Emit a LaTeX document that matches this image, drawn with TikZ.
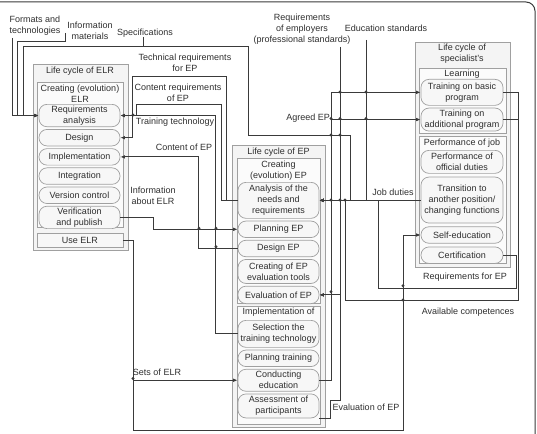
\documentclass[tikz,border=0pt]{standalone}
\usepackage{fontspec}
\setmainfont{Liberation Sans}
\usetikzlibrary{
    arrows.meta,
    positioning,
    fit,
    calc,
}
\definecolor{linecol}{HTML}{3A3A3A}
\definecolor{boxcol}{HTML}{A0A0A0}
\definecolor{textcol}{HTML}{2E2E2E}

\begin{document}
\begin{tikzpicture}[
    x=1pt, y=-1pt,
    font=\fontsize{9}{11}\selectfont,
    text=textcol,
    node distance=2pt,
    cycle/.style={draw=boxcol, fill=gray!9, line width=0.7pt, inner sep=0pt},
    stage/.style={draw=boxcol, fill=gray!3, line width=0.7pt, inner sep=0pt},
    process/.style={draw=boxcol, fill=gray!6, rounded corners=8pt, align=center,
                minimum width=81pt, minimum height=16.5pt, inner xsep=1pt, inner ysep=1.5pt,
                line width=0.7pt},
    caption/.style={align=center, inner sep=0pt},
    flow/.style={draw=linecol, line width=1pt, -{Latex[length=4.5pt,width=3.6pt]}},
    line/.style={draw=linecol, line width=1pt},
]
\useasboundingbox (0,0) rectangle (537,433);
\clip (0,0) rectangle (537,433);

% Frame
\draw[linecol, line width=1pt, rounded corners=9pt] (-10,2) rectangle (535,445);

% Life cycle of ELR
\node[cycle, fit={(33,64) (128,250)}] (elr) {};
\node[stage, fit={(37,82) (123,227)}] (elr-create) {};
\node[caption] (elr-title) at (80,71) {Life cycle of ELR};
\node[caption] (elr-create-title) at (80,93.5) {Creating (evolution)\\ELR};
\node[process, minimum height=22pt, anchor=north] (reqan) at (79.5,104) {Requirements\\analysis};
\node[process, below=of reqan] (design) {Design};
\node[process, below=of design] (impl) {Implementation};
\node[process, below=of impl] (integ) {Integration};
\node[process, below=of integ] (version) {Version control};
\node[process, minimum height=22pt, below=of version] (verif) {Verification\\and publish};
\node[process, rounded corners=0pt, minimum width=86pt, minimum height=14pt] (useelr) at (80,240) {Use ELR};

% Life cycle of EP
\node[cycle, fit={(232,145) (325,427)}] (ep) {};
\node[stage, fit={(237,158) (320,303)}] (ep-create) {};
\node[stage, fit={(237,306) (320,424)}] (ep-impl) {};
\node[caption] (ep-title) at (278.5,152) {Life cycle of EP};
\node[caption] (ep-create-title) at (278.5,170.5) {Creating\\(evolution) EP};
\node[process, minimum height=36pt, anchor=north] (anal) at (278.5,182) {Analysis of the\\needs and\\requirements};
\node[process, below=of anal] (planep) {Planning EP};
\node[process, below=of planep] (designep) {Design EP};
\node[process, minimum height=24pt, below=of designep] (evaltools) {Creating of EP\\evaluation tools};
\node[process, minimum height=17.5pt, below=of evaltools] (evalep) {Evaluation of EP};
\node[caption] (ep-impl-title) at (278.5,312) {Implementation of};
\node[process, minimum height=27pt, anchor=north] (select) at (278.5,320) {Selection the\\training technology};
\node[process, below=of select] (plantr) {Planning training};
\node[process, minimum height=22pt, below=of plantr] (condu) {Conducting\\education};
\node[process, minimum height=24pt, below=of condu] (assess) {Assessment of\\participants};

% Life cycle of specialist's
\node[cycle, fit={(415,42) (510,267)}] (spec) {};
\node[stage, fit={(419,68) (506,133)}] (learn) {};
\node[stage, fit={(419,136) (506,263)}] (job) {};
\node[caption] (spec-title) at (462,54) {Life cycle of\\specialist's};
\node[caption] (learn-title) at (462,74) {Learning};
\node[process, minimum width=82pt, minimum height=26pt, anchor=north] (basic) at (462,79) {Training on basic\\program};
\node[process, minimum width=82pt, minimum height=23pt, below=of basic] (addit) {Training on\\additional program};
\node[caption] (job-title) at (462,143) {Performance of job};
\node[process, minimum width=82pt, minimum height=23pt, anchor=north] (official) at (462,150) {Performance of\\official duties};
\node[process, minimum width=82pt, minimum height=46pt, below=3pt of official] (trans) {Transition to\\another position/\\changing functions};
\node[process, minimum width=82pt, below=3pt of trans] (selfedu) {Self-education};
\node[process, minimum width=82pt, below=3pt of selfedu] (cert) {Certification};

% Inputs
\node[caption] (fmt) at (35,26) {Formats and\\technologies};
\node[caption] (info) at (90,30.5) {Information\\materials};
\node[caption] (specs) at (145,33) {Specifications};
\node[caption] (emp) at (302,29.5) {Requirements\\of employers\\(professional standards)};
\node[caption] (std) at (386,28) {Education standards};
\coordinate (fmt-in) at (12,38);
\coordinate (info-in) at (65,33);
\coordinate (specs-in) at (143,37);
\coordinate (emp-in) at (340,47);
\coordinate (std-in) at (366,40);

% Labels
\node[caption] (l-tech) at (185,62.5) {Technical requirements\\for EP};
\node[caption] (l-content) at (178,92.5) {Content requirements\\of EP};
\node[caption] (l-techno) at (175,122) {Training technology};
\node[caption] (l-contep) at (184,147) {Content of EP};
\node[caption] (l-about) at (153,195.5) {Information\\about ELR};
\node[caption] (l-sets) at (157,372) {Sets of ELR};
\node[caption, anchor=east] (l-agreed) at (330,118) {Agreed EP};
\node[caption] (l-duties) at (393,192) {Job duties};
\node[caption] (l-reqep) at (465,277) {Requirements for EP};
\node[caption] (l-compet) at (468,312) {Available competences};
\node[caption] (l-evalep) at (366,407) {Evaluation of EP};

% Lines
\draw[flow] (fmt-in) |- (reqan.west);
\draw[flow] (info-in) -- ++(0,9) -- ++(-48,0) |- (reqan.west);
\draw[flow] (specs-in) -- ++(0,10) -- ++(-120,0) |- (reqan.west);
\draw[flow] (specs-in) -- ++(0,10) -- ++(105,0) -- ++(0,88) -- ++(102,0) |- (anal.east);

\draw[flow] (anal.west) -- ++(-11,0) -- ++(0,-124) -- ++(-94,0) |- (design.east);
\draw[flow] (anal.west) -- ++(-16,0) -- ++(0,-96) -- ++(-85,0) |- (reqan.east);
\draw[flow] (select.west) -- ++(-22,0) |- (reqan.east);
\draw[flow] (designep.west) -- ++(-39,0) |- (impl.east);
\draw[flow] (verif.east) -- ++(33,0) |- (planep.west);

\draw[flow] (useelr.east) -- ++(10,0) -- ++(0,190) -- ++(270,0) |- (selfedu.west);
\draw[flow] (useelr.east) -- ++(10,0) |- (condu.west);

\draw[flow] (condu.east) -- ++(12,0) |- (basic.west);
\draw[flow] (condu.east) -- ++(12,0) |- (addit.west);
\draw[flow] (assess.south east) -- ++(11,0) -- ++(0,-18) -- ++(10,0) |- (evalep.east);

\draw[flow] (emp-in) |- (anal.east);
\draw[flow] (emp-in) |- (evalep.east);
\draw[flow] (std-in) |- (anal.east);
\draw[flow] (trans.west |- anal.east) -- (anal.east);

\draw[flow] (basic.east) -- ++(15,0) -- ++(0,208) -- ++(-173,0) |- (anal.east);
\draw[line] (addit.east) -- ++(15,0);
\draw[flow] (cert.east) -- ++(13,0) -- ++(0,33) -- ++(-138,0) |- (anal.east);

% Crossings
\foreach \x/\y in {133/115, 199/228.3, 216/228.3, 216/246.8, 331/135, 340/135,
                   340/92, 366/92, 331/118.5, 340/118.5, 366/118.5,
                   331/200, 340/200, 345/200, 331/291.8, 403/285.8, 403/300, 133/378.5}
    \fill[linecol] (\x,\y) circle (1.6);

\end{tikzpicture}
\end{document}
